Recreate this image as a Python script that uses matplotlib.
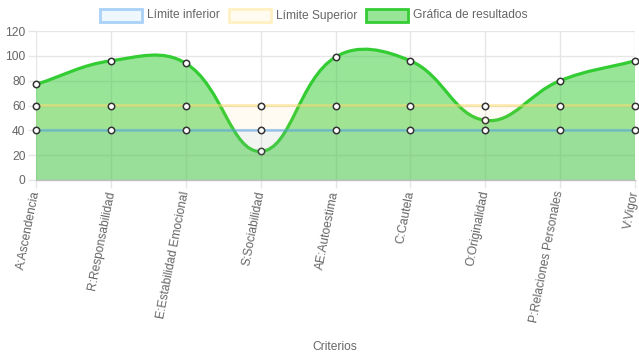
import numpy as np
import matplotlib.pyplot as plt
from matplotlib.path import Path
from matplotlib.patches import PathPatch, Rectangle

criterios = ['A:Ascendencia', 'R:Responsabilidad', 'E:Estabilidad Emocional',
             'S:Sociabilidad', 'AE:Autoestima', 'C:Cautela', 'O:Originalidad',
             'P:Relaciones Personales', 'V:Vigor']
resultados = [77, 96, 94, 23, 99, 96, 48, 80, 96]
limite_inferior = [40, 40, 40, 40, 40, 40, 40, 40, 40]
limite_superior = [60, 60, 60, 60, 60, 60, 60, 60, 60]
y_ticks = [0, 20, 40, 60, 80, 100, 120]

plt.rcParams['font.family'] = ['Liberation Sans', 'DejaVu Sans']
txt_color = '#666666'
grid_color = '#e6e6e6'
fs = 8.64  # 12px

W, H = 639, 360
fig = plt.figure(figsize=(W / 100, H / 100), dpi=100)
ax = fig.add_axes([36 / W, 1 - 180 / H, 599 / W, 149 / H])
x = np.arange(len(criterios))
ax.set_xlim(0, len(criterios) - 1)
ax.set_ylim(0, 120)


def spline_path(xs, ys, tension=0.4):
    # bezier curve like chart.js, control points computed in pixel space
    pts = ax.transData.transform(np.column_stack([xs, ys]))
    n = len(pts)
    c_prev, c_next = [], []
    for i in range(n):
        prev = pts[max(i - 1, 0)]
        cur = pts[i]
        nxt = pts[min(i + 1, n - 1)]
        d01 = np.hypot(*(cur - prev))
        d12 = np.hypot(*(nxt - cur))
        tot = d01 + d12
        s01 = d01 / tot if tot else 0
        s12 = d12 / tot if tot else 0
        c_prev.append(cur - tension * s01 * (nxt - prev))
        c_next.append(cur + tension * s12 * (nxt - prev))
    verts = [pts[0]]
    codes = [Path.MOVETO]
    for i in range(1, n):
        verts += [c_next[i - 1], c_prev[i], pts[i]]
        codes += [Path.CURVE4] * 3
    verts = ax.transData.inverted().transform(np.array(verts))
    return verts, codes


def draw_dataset(ys, line_col, fill_col, z, lw):
    verts, codes = spline_path(x, ys)
    fill_verts = np.vstack([verts, [[x[-1], 0], [x[0], 0], [x[0], 0]]])
    fill_codes = codes + [Path.LINETO, Path.LINETO, Path.CLOSEPOLY]
    ax.add_patch(PathPatch(Path(fill_verts, fill_codes), facecolor=fill_col,
                           edgecolor='none', zorder=z))
    ax.add_patch(PathPatch(Path(verts, codes), facecolor='none',
                           edgecolor=line_col, lw=lw, zorder=z + 0.1,
                           capstyle='round', joinstyle='round'))
    ax.plot(x, ys, 'o', ms=4.6, mfc='white', mec='#333333', mew=1.1,
            zorder=z + 0.2, clip_on=False)


# chart.js draws the last dataset first
draw_dataset(resultados, '#33cc33', (0.2, 0.8, 0.2, 0.5), 2, 2.3)
draw_dataset(limite_superior, (1.0, 0.86, 0.45, 0.55), (1.0, 0.82, 0.35, 0.07), 3, 2.0)
draw_dataset(limite_inferior, (0.33, 0.63, 0.92, 0.5), (0.33, 0.63, 0.92, 0.07), 4, 2.0)

# axes styling
ax.set_yticks(y_ticks)
ax.set_xticks(x)
ax.set_xticklabels(criterios, rotation=79, ha='right', va='center',
                   rotation_mode='anchor')
ax.grid(True, color=grid_color, lw=1, zorder=0)
ax.set_axisbelow(True)
for s in ['top', 'right', 'left']:
    ax.spines[s].set_visible(False)
ax.spines['bottom'].set_color('#bfbfbf')
ax.spines['bottom'].set_linewidth(1)
ax.tick_params(axis='both', colors=grid_color, labelcolor=txt_color,
               labelsize=fs, length=6, width=1)
ax.tick_params(axis='y', pad=1.5)
ax.tick_params(axis='x', pad=2)

fig.text(335 / W, 1 - 347 / H, 'Criterios', ha='center', va='center',
         color=txt_color, fontsize=fs)

# legend drawn by hand, chart.js style
legend_items = [
    ('Límite inferior', '#eef6fe', '#aad1f7', 100),
    ('Límite Superior', '#fffbf0', '#fff0c2', 229),
    ('Gráfica de resultados', '#98e598', '#33cc33', 366),
]
for label, fc, ec, px in legend_items:
    fig.patches.append(Rectangle((px / W, 1 - 22 / H), 42 / W, 13 / H,
                                 transform=fig.transFigure, facecolor=fc,
                                 edgecolor=ec, lw=2))
    fig.text((px + 47) / W, 1 - 15.5 / H, label, ha='left', va='center',
             color=txt_color, fontsize=fs)

fig.savefig('out.png', dpi=100)
